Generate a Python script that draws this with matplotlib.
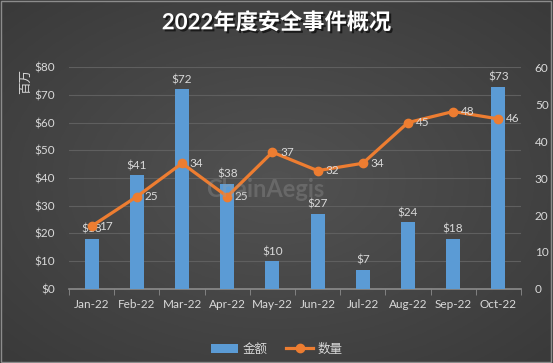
import numpy as np
import matplotlib
matplotlib.use("Agg")
import matplotlib.pyplot as plt
import matplotlib.patheffects as pe

plt.rcParams['font.family'] = ['Lato', 'Noto Sans CJK SC', 'DejaVu Sans']

months = ['Jan-22', 'Feb-22', 'Mar-22', 'Apr-22', 'May-22',
          'Jun-22', 'Jul-22', 'Aug-22', 'Sep-22', 'Oct-22']
amount = [18, 41, 72, 38, 10, 27, 7, 24, 18, 73]   # 金额 (百万 $)
count = [17, 25, 34, 25, 37, 32, 34, 45, 48, 46]   # 数量

txt = '#d9d9d9'
blue = '#5b9bd5'
orange = '#ed7d31'

fig = plt.figure(figsize=(5.53, 3.63), dpi=100)

# radial gradient background
bg = fig.add_axes([0, 0, 1, 1], zorder=-10)
yy, xx = np.mgrid[-1:1:300j, -1:1:450j]
r = np.sqrt(xx ** 2 + yy ** 2)
bg.imshow(r, cmap=matplotlib.colors.LinearSegmentedColormap.from_list(
    'g', ['#525252', '#3a3a3a']), aspect='auto', extent=[0, 1, 0, 1], vmin=0, vmax=1.4)
bg.add_patch(plt.Rectangle((0.002, 0.003), 0.995, 0.994, fill=False,
                           edgecolor='#8c8c8c', lw=1, transform=bg.transAxes))
bg.axis('off')

ax = fig.add_axes([0.125, 0.204, 0.817, 0.611])
ax.set_facecolor('none')
x = np.arange(len(months))

bars = ax.bar(x, amount, width=0.31, color=blue, zorder=3)
for xi, v in zip(x, amount):
    ax.text(xi, v + 1.5, f'${v}', ha='center', va='bottom', color=txt, fontsize=8.5, zorder=6)

ax.set_ylim(0, 80)
ax.set_xlim(-0.5, len(months) - 0.5)
ax.set_yticks(range(0, 81, 10))
ax.set_yticklabels([f'${v}' for v in range(0, 81, 10)])
ax.yaxis.grid(True, color='#5f5f5f', lw=0.8)
ax.set_axisbelow(True)
ax.set_xticks(x)
ax.set_xticklabels(months)
ax.set_xticks(np.arange(-0.5, len(months)), minor=True)
ax.tick_params(axis='x', which='major', length=0, colors=txt, labelsize=8.5, pad=7)
ax.tick_params(axis='x', which='minor', length=4, color='#8c8c8c')
ax.tick_params(axis='y', length=0, colors=txt, labelsize=8.5, pad=10)
for s in ['top', 'right', 'left']:
    ax.spines[s].set_visible(False)
ax.spines['bottom'].set_color('#8c8c8c')
ax.spines['bottom'].set_linewidth(1.2)

ax2 = ax.twinx()
ax2.set_ylim(0, 60)
ax2.set_yticks(range(0, 61, 10))
line, = ax2.plot(x, count, color=orange, lw=2.3, marker='o', markersize=6, zorder=5)
for xi, v in zip(x, count):
    ax2.text(xi + 0.17, v, str(v), ha='left', va='center', color=txt, fontsize=8.5, zorder=6)
for s in ax2.spines.values():
    s.set_visible(False)
ax2.tick_params(axis='y', length=0, colors=txt, labelsize=8.5, pad=10)

# watermark
fig.text(0.48, 0.478, 'ChainAegis', color='#a0a0a0', alpha=0.3, fontsize=17,
         fontweight='bold', ha='center', va='center')

fig.text(0.045, 0.775, '百万', rotation=90, color=txt, fontsize=9, ha='center', va='center')

fig.text(0.5, 0.938, '2022年度安全事件概况', color='white', fontsize=16, fontweight='bold',
         ha='center', va='center',
         path_effects=[pe.withSimplePatchShadow(offset=(1.5, -1.5), shadow_rgbFace='black', alpha=0.6)])

fig.legend([bars, line], ['金额', '数量'], loc='center', bbox_to_anchor=(0.5, 0.04),
           ncol=2, frameon=False, labelcolor=txt, fontsize=9, handlelength=2.2,
           columnspacing=1.5, handletextpad=0.3)

fig.savefig('out.png', dpi=100)
